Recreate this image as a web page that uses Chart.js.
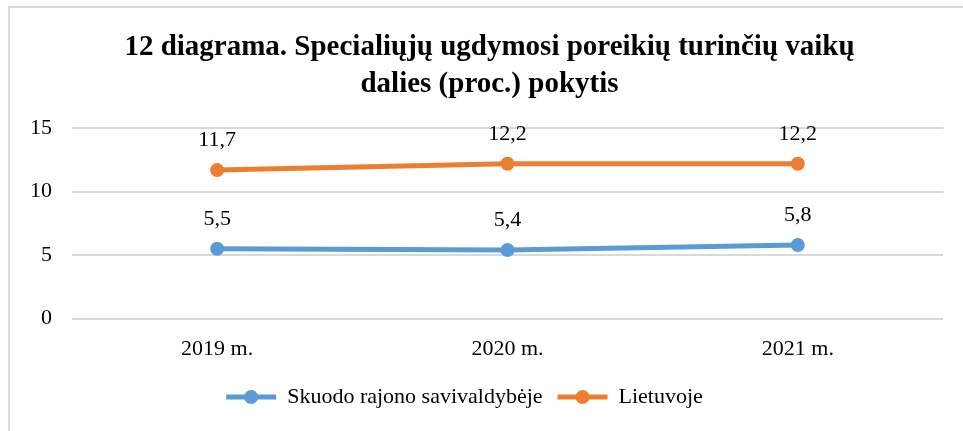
<!DOCTYPE html>
<html>
<head>
<meta charset="utf-8">
<script src="https://cdn.jsdelivr.net/npm/chart.js@4/dist/chart.umd.min.js"></script>
<style>
  html, body { margin: 0; padding: 0; background: #fff; }
  #wrap { position: relative; width: 963px; height: 431px; }
</style>
</head>
<body>
<div id="wrap"><canvas id="chart" width="963" height="431"></canvas></div>
<script>
const categories = ['2019 m.', '2020 m.', '2021 m.'];
const skuodas = [5.5, 5.4, 5.8];
const lietuva = [11.7, 12.2, 12.2];
const seriesNames = ['Skuodo rajono savivaldybėje', 'Lietuvoje'];
const yTicks = [0, 5, 10, 15];

const serif = "'Liberation Serif', 'Times New Roman', serif";

// frame around the chart (only top and left visible in the reference)
const framePlugin = {
  id: 'frame',
  beforeDraw(chart) {
    const ctx = chart.ctx;
    ctx.save();
    ctx.fillStyle = '#fff';
    ctx.fillRect(0, 0, chart.width, chart.height);
    ctx.strokeStyle = '#d9d9d9';
    ctx.lineWidth = 2;
    ctx.strokeRect(9, 7, chart.width + 20, chart.height + 20);
    ctx.restore();
  }
};

// nudge title and legend horizontally to where the reference has them
const nudgeBoxes = {
  id: 'nudgeBoxes',
  afterLayout(chart) {
    const t = chart.titleBlock;
    if (t) { t.left += 18; t.right += 18; }
    const lg = chart.legend;
    if (lg) {
      lg.left -= 7; lg.right -= 7;
      (lg.legendHitBoxes || []).forEach(hb => { hb.left -= 7; });
    }
  }
};

// value labels above every point, comma decimals
const valueLabels = {
  id: 'valueLabels',
  afterDatasetsDraw(chart) {
    const ctx = chart.ctx;
    ctx.save();
    ctx.font = '22px ' + serif;
    ctx.fillStyle = '#000';
    ctx.textAlign = 'center';
    ctx.textBaseline = 'middle';
    chart.data.datasets.forEach((ds, i) => {
      chart.getDatasetMeta(i).data.forEach((pt, j) => {
        ctx.fillText(ds.data[j].toFixed(1).replace('.', ','), pt.x, pt.y - 30);
      });
    });
    ctx.restore();
  }
};

// round marker in the middle of each legend line
const legendMarkers = {
  id: 'legendMarkers',
  afterDraw(chart) {
    const lg = chart.legend;
    if (!lg || !lg.legendHitBoxes) return;
    const bw = lg.options.labels.boxWidth;
    const ctx = chart.ctx;
    ctx.save();
    lg.legendHitBoxes.forEach((hb, i) => {
      ctx.fillStyle = chart.data.datasets[i].borderColor;
      ctx.beginPath();
      ctx.arc(hb.left + bw / 2, hb.top + hb.height / 2, 7, 0, Math.PI * 2);
      ctx.fill();
    });
    ctx.restore();
  }
};

new Chart(document.getElementById('chart'), {
  type: 'line',
  data: {
    labels: categories,
    datasets: [
      { label: seriesNames[0], data: skuodas, borderColor: '#5b9bd5', backgroundColor: '#5b9bd5', borderWidth: 5, pointRadius: 7, pointHoverRadius: 7, pointBackgroundColor: '#5b9bd5', pointBorderWidth: 0, tension: 0 },
      { label: seriesNames[1], data: lietuva, borderColor: '#ed7d31', backgroundColor: '#ed7d31', borderWidth: 5, pointRadius: 7, pointHoverRadius: 7, pointBackgroundColor: '#ed7d31', pointBorderWidth: 0, tension: 0 }
    ]
  },
  options: {
    responsive: false,
    animation: false,
    layout: { padding: { left: 0, right: 20, top: 0, bottom: 13 } },
    scales: {
      x: {
        grid: { display: false },
        border: { display: false },
        offset: true,
        ticks: { color: '#000', font: { family: serif, size: 22 }, padding: 9 }
      },
      y: {
        min: 0, max: 15,
        afterBuildTicks: axis => { axis.ticks = yTicks.map(v => ({ value: v })); },
        afterFit: axis => { axis.width = 72; },
        grid: { color: '#d9d9d9', lineWidth: 2, drawTicks: false },
        border: { display: false },
        ticks: { color: '#000', font: { family: serif, size: 22 }, padding: 20 }
      }
    },
    plugins: {
      title: {
        display: true,
        text: ['12 diagrama. Specialiųjų ugdymosi poreikių turinčių vaikų', 'dalies (proc.) pokytis'],
        color: '#000',
        font: { family: serif, size: 29, weight: 'bold', lineHeight: 1.28 },
        padding: { top: 29, bottom: 25 }
      },
      legend: {
        position: 'bottom',
        labels: {
          color: '#000',
          font: { family: serif, size: 22 },
          boxWidth: 50,
          boxHeight: 5,
          padding: 15,
          generateLabels: chart => chart.data.datasets.map((ds, i) => ({
            text: ds.label, fillStyle: ds.borderColor, strokeStyle: ds.borderColor,
            lineWidth: 0, datasetIndex: i
          }))
        }
      },
      tooltip: { enabled: false }
    }
  },
  plugins: [framePlugin, nudgeBoxes, valueLabels, legendMarkers]
});
</script>
</body>
</html>
